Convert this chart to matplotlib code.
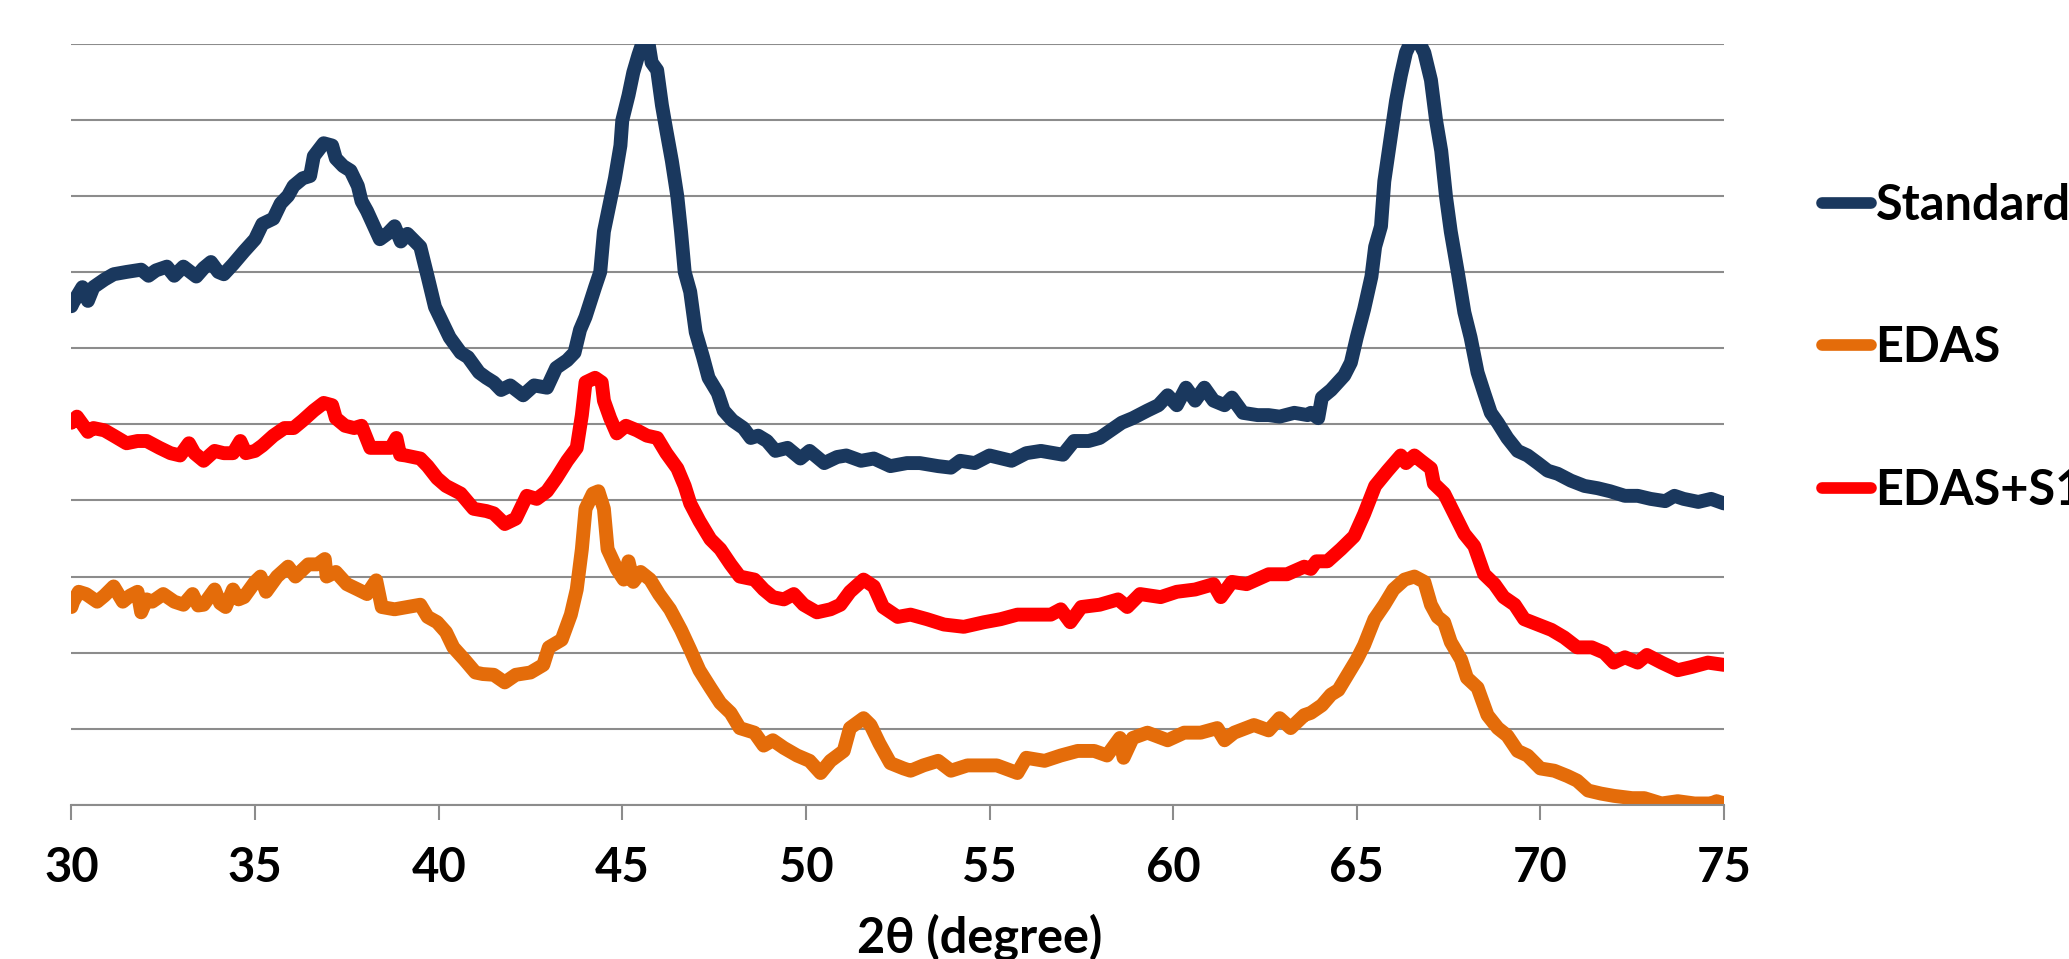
import numpy as np
import matplotlib

matplotlib.use("Agg")
import matplotlib.pyplot as plt

# ---- data (2theta in degree, intensity in grid units) ----
std_x = [30.0, 30.05, 30.3, 30.45, 30.6, 30.9, 31.15, 31.5, 31.9, 32.1, 32.3, 32.6, 32.8,
         33.05, 33.4, 33.6, 33.8, 34.0, 34.15, 34.4, 34.7, 35.0, 35.2, 35.5, 35.7, 35.9,
         36.05, 36.3, 36.5, 36.6, 36.87, 37.1, 37.2, 37.4, 37.6, 37.8, 37.9, 38.05, 38.4,
         38.6, 38.8, 38.97, 39.15, 39.5, 39.7, 39.9, 40.1, 40.3, 40.6, 40.8, 41.1, 41.3,
         41.5, 41.7, 41.95, 42.3, 42.6, 42.95, 43.2, 43.5, 43.7, 43.85, 44.0, 44.26, 44.4,
         44.5, 44.7, 44.8, 44.95, 45.0, 45.17, 45.3, 45.44, 45.58, 45.7, 45.8, 45.95, 46.08,
         46.2, 46.35, 46.5, 46.6, 46.7, 46.85, 47.0, 47.2, 47.35, 47.6, 47.76, 48.0, 48.3,
         48.5, 48.7, 48.94, 49.17, 49.5, 49.85, 50.1, 50.5, 50.85, 51.1, 51.5, 51.85, 52.3,
         52.75, 53.1, 53.6, 53.95, 54.2, 54.6, 55.0, 55.6, 56.0, 56.4, 56.75, 57.0, 57.3,
         57.7, 58.0, 58.3, 58.6, 58.9, 59.3, 59.6, 59.85, 60.1, 60.35, 60.6, 60.85, 61.1,
         61.4, 61.6, 61.9, 62.3, 62.6, 62.9, 63.3, 63.66, 63.75, 63.95, 64.05, 64.3, 64.66,
         64.84, 65.0, 65.2, 65.4, 65.5, 65.66, 65.75, 65.93, 66.07, 66.2, 66.34, 66.5, 66.66,
         66.84, 67.02, 67.16, 67.3, 67.43, 67.56, 67.75, 67.93, 68.1, 68.29, 68.47, 68.65,
         68.84, 69.1, 69.38, 69.65, 69.93, 70.2, 70.47, 70.83, 71.2, 71.56, 71.9, 72.3,
         72.65, 73.0, 73.4, 73.65, 73.9, 74.3, 74.65, 75.0]
std_y = [6.55, 6.60, 6.80, 6.62, 6.80, 6.90, 6.97, 7.00, 7.03, 6.95, 7.02, 7.07, 6.95,
         7.07, 6.94, 7.05, 7.13, 7.00, 6.97, 7.10, 7.27, 7.43, 7.63, 7.70, 7.90, 8.00,
         8.13, 8.23, 8.26, 8.52, 8.69, 8.66, 8.49, 8.39, 8.33, 8.13, 7.93, 7.80, 7.43,
         7.50, 7.60, 7.40, 7.50, 7.33, 6.94, 6.54, 6.34, 6.14, 5.94, 5.88, 5.68, 5.61,
         5.55, 5.45, 5.51, 5.38, 5.51, 5.48, 5.74, 5.84, 5.94, 6.24, 6.41, 6.80, 7.00,
         7.53, 8.00, 8.23, 8.66, 8.99, 9.32, 9.62, 9.85, 10.05, 10.05, 9.75, 9.65, 9.19,
         8.86, 8.46, 7.99, 7.53, 7.00, 6.74, 6.21, 5.88, 5.61, 5.41, 5.18, 5.05, 4.95,
         4.82, 4.85, 4.78, 4.65, 4.69, 4.55, 4.65, 4.49, 4.57, 4.59, 4.52, 4.55, 4.45,
         4.49, 4.49, 4.45, 4.43, 4.52, 4.49, 4.59, 4.52, 4.62, 4.65, 4.62, 4.60, 4.78,
         4.78, 4.82, 4.92, 5.02, 5.08, 5.18, 5.25, 5.38, 5.25, 5.48, 5.31, 5.48, 5.31,
         5.25, 5.35, 5.15, 5.12, 5.12, 5.10, 5.15, 5.12, 5.15, 5.08, 5.35, 5.45, 5.64,
         5.81, 6.14, 6.51, 6.94, 7.33, 7.60, 8.19, 8.79, 9.25, 9.58, 9.88, 10.05, 10.05,
         9.88, 9.52, 8.99, 8.59, 7.99, 7.53, 7.00, 6.47, 6.14, 5.68, 5.41, 5.15,
         5.02, 4.82, 4.65, 4.59, 4.49, 4.39, 4.35, 4.26, 4.19, 4.16, 4.12, 4.06,
         4.06, 4.02, 3.99, 4.06, 4.02, 3.98, 4.02, 3.96]

edas_x = [30.0, 30.05, 30.2, 30.4, 30.7, 30.9, 31.15, 31.4, 31.6, 31.8, 31.9, 32.05, 32.2,
          32.5, 32.8, 33.05, 33.3, 33.45, 33.6, 33.9, 34.05, 34.2, 34.4, 34.55, 34.7, 35.0,
          35.15, 35.3, 35.6, 35.9, 36.1, 36.45, 36.7, 36.9, 36.95, 37.2, 37.5, 37.8, 38.05,
          38.3, 38.45, 38.8, 39.15, 39.5, 39.7, 39.96, 40.2, 40.4, 40.7, 41.0, 41.2, 41.5,
          41.8, 42.1, 42.5, 42.85, 43.0, 43.35, 43.6, 43.76, 43.9, 44.0, 44.2, 44.35, 44.5,
          44.6, 44.85, 45.04, 45.17, 45.3, 45.5, 45.76, 46.0, 46.3, 46.6, 46.85, 47.1, 47.4,
          47.67, 47.95, 48.2, 48.6, 48.85, 49.1, 49.4, 49.76, 50.1, 50.4, 50.67, 51.03,
          51.2, 51.57, 51.76, 52.0, 52.3, 52.66, 52.85, 53.2, 53.6, 53.95, 54.4, 54.85,
          55.2, 55.76, 56.0, 56.5, 56.94, 57.4, 57.85, 58.2, 58.55, 58.65, 58.9, 59.3,
          59.85, 60.3, 60.75, 61.2, 61.4, 61.66, 62.2, 62.6, 62.9, 63.2, 63.57, 63.75,
          64.05, 64.3, 64.5, 64.75, 65.0, 65.2, 65.48, 65.75, 66.0, 66.3, 66.57, 66.84,
          67.02, 67.2, 67.38, 67.56, 67.84, 68.0, 68.29, 68.56, 68.84, 69.1, 69.38, 69.65,
          70.0, 70.38, 70.74, 71.0, 71.3, 71.65, 72.0, 72.5, 72.83, 73.3, 73.74, 74.2,
          74.65, 74.8, 75.0]
edas_y = [2.60, 2.67, 2.80, 2.77, 2.67, 2.75, 2.87, 2.67, 2.75, 2.80, 2.53, 2.70, 2.67,
          2.77, 2.67, 2.63, 2.77, 2.62, 2.63, 2.83, 2.65, 2.60, 2.83, 2.70, 2.73, 2.93,
          3.00, 2.80, 3.00, 3.13, 3.00, 3.16, 3.16, 3.23, 3.00, 3.06, 2.90, 2.83, 2.77,
          2.95, 2.60, 2.57, 2.60, 2.63, 2.47, 2.40, 2.27, 2.07, 1.91, 1.74, 1.72, 1.71,
          1.61, 1.71, 1.74, 1.84, 2.07, 2.17, 2.50, 2.83, 3.36, 3.89, 4.09, 4.12, 3.89,
          3.36, 3.10, 2.96, 3.20, 2.93, 3.06, 2.96, 2.77, 2.57, 2.30, 2.04, 1.77, 1.54,
          1.34, 1.21, 1.01, 0.95, 0.78, 0.85, 0.75, 0.65, 0.58, 0.42, 0.58, 0.71,
          1.01, 1.14, 1.05, 0.81, 0.55, 0.48, 0.45, 0.52, 0.58, 0.45, 0.52, 0.52,
          0.52, 0.42, 0.62, 0.58, 0.65, 0.71, 0.71, 0.65, 0.88, 0.62, 0.88, 0.95,
          0.85, 0.95, 0.95, 1.01, 0.85, 0.95, 1.05, 0.98, 1.14, 1.01, 1.18, 1.21,
          1.31, 1.45, 1.51, 1.71, 1.91, 2.10, 2.44, 2.63, 2.83, 2.96, 3.00, 2.93,
          2.63, 2.47, 2.40, 2.14, 1.91, 1.67, 1.54, 1.18, 1.01, 0.91, 0.71, 0.65,
          0.48, 0.45, 0.38, 0.32, 0.19, 0.15, 0.12, 0.09, 0.09, 0.02, 0.05, 0.02,
          0.02, 0.05, 0.02]

s1_x = [30.0, 30.15, 30.3, 30.45, 30.6, 30.9, 31.15, 31.5, 31.8, 32.05, 32.4, 32.7, 32.96,
        33.2, 33.35, 33.6, 33.9, 34.15, 34.4, 34.6, 34.75, 35.0, 35.2, 35.5, 35.8, 36.05,
        36.3, 36.6, 36.87, 37.1, 37.2, 37.45, 37.7, 37.9, 38.14, 38.4, 38.7, 38.85, 38.95,
        39.1, 39.5, 39.7, 39.96, 40.2, 40.6, 40.95, 41.3, 41.5, 41.8, 42.1, 42.4, 42.67,
        42.95, 43.2, 43.5, 43.76, 43.9, 44.0, 44.26, 44.44, 44.5, 44.67, 44.85, 45.1, 45.4,
        45.67, 45.95, 46.2, 46.5, 46.7, 46.85, 47.1, 47.4, 47.67, 47.95, 48.2, 48.6, 48.85,
        49.1, 49.4, 49.67, 49.94, 50.3, 50.67, 50.94, 51.2, 51.57, 51.85, 52.1, 52.5, 52.85,
        53.3, 53.76, 54.3, 54.85, 55.3, 55.76, 56.2, 56.67, 56.94, 57.2, 57.5, 58.0, 58.5,
        58.75, 59.1, 59.66, 60.1, 60.6, 61.1, 61.3, 61.6, 62.0, 62.6, 63.1, 63.57, 63.75,
        63.9, 64.2, 64.57, 64.93, 65.2, 65.5, 65.84, 66.2, 66.34, 66.57, 66.75, 67.02, 67.1,
        67.38, 67.66, 67.93, 68.2, 68.47, 68.75, 69.0, 69.3, 69.56, 69.93, 70.3, 70.65,
        71.0, 71.4, 71.74, 72.0, 72.3, 72.65, 72.9, 73.3, 73.74, 74.1, 74.56, 75.0]
s1_y = [5.02, 5.10, 5.00, 4.90, 4.95, 4.92, 4.85, 4.75, 4.78, 4.78, 4.69, 4.62, 4.59,
        4.75, 4.62, 4.52, 4.65, 4.62, 4.62, 4.78, 4.62, 4.65, 4.72, 4.85, 4.95, 4.95,
        5.05, 5.18, 5.28, 5.25, 5.08, 4.98, 4.95, 4.98, 4.69, 4.69, 4.69, 4.82, 4.60,
        4.59, 4.55, 4.45, 4.29, 4.19, 4.09, 3.89, 3.86, 3.83, 3.69, 3.76, 4.06, 4.02,
        4.12, 4.29, 4.52, 4.69, 5.12, 5.55, 5.61, 5.55, 5.31, 5.08, 4.88, 4.98, 4.92,
        4.85, 4.82, 4.62, 4.42, 4.19, 3.96, 3.73, 3.49, 3.36, 3.16, 3.00, 2.96, 2.83,
        2.73, 2.70, 2.77, 2.63, 2.53, 2.57, 2.63, 2.80, 2.96, 2.87, 2.60, 2.47, 2.50,
        2.44, 2.37, 2.34, 2.40, 2.44, 2.50, 2.50, 2.50, 2.57, 2.40, 2.60, 2.63, 2.70,
        2.60, 2.77, 2.73, 2.80, 2.83, 2.90, 2.73, 2.93, 2.90, 3.03, 3.03, 3.13, 3.10,
        3.20, 3.20, 3.36, 3.53, 3.82, 4.19, 4.39, 4.59, 4.49, 4.59, 4.52, 4.42, 4.22,
        4.09, 3.82, 3.56, 3.40, 3.03, 2.90, 2.73, 2.63, 2.44, 2.37, 2.30, 2.20,
        2.07, 2.07, 2.00, 1.87, 1.94, 1.87, 1.97, 1.87, 1.77, 1.81, 1.87, 1.84]

SERIES = [("Standard", std_x, std_y, "#1a385e"),
          ("EDAS", edas_x, edas_y, "#e46c0a"),
          ("EDAS+S1", s1_x, s1_y, "#ff0000")]
XTICKS = [30, 35, 40, 45, 50, 55, 60, 65, 70, 75]
GRID = "#8c8c8c"

plt.rcParams["font.family"] = ["Lato", "DejaVu Sans"]
plt.rcParams["font.weight"] = "bold"

W, H = 2069, 959
fig = plt.figure(figsize=(W / 100, H / 100), dpi=100)
ax = fig.add_axes([71.4 / W, 1 - 805 / H, (1724 - 71.4) / W, (805 - 43.5) / H])

handles = []
for name, xs, ys, col in SERIES:
    ln, = ax.plot(np.asarray(xs), np.asarray(ys), color=col, lw=10, label=name,
                  solid_capstyle="round", solid_joinstyle="round")
    handles.append(ln)

ax.set_xlim(30, 75)
ax.set_ylim(0, 10)
ax.set_xticks(XTICKS)
ax.set_xticklabels([str(t) for t in XTICKS])
ax.set_yticks(np.arange(0, 11))
ax.set_axisbelow(True)
ax.yaxis.grid(True, color=GRID, lw=1.5)
for s in ("left", "right", "top"):
    ax.spines[s].set_visible(False)
ax.spines["bottom"].set_color(GRID)
ax.spines["bottom"].set_linewidth(1.5)
ax.tick_params(axis="y", left=False, labelleft=False)
ax.tick_params(axis="x", direction="out", length=10.8, width=1.5, color=GRID,
               pad=19, labelsize=34)

ax.set_xlabel("2θ (degree)", fontsize=35, fontweight="bold", va="top")
ax.xaxis.set_label_coords(0.5498, (805 - 913) / (805 - 43.5))

leg = fig.legend(handles=handles, labels=[s[0] for s in SERIES], loc="center left",
                 bbox_to_anchor=(1822 / W, 1 - 348 / H), frameon=False, fontsize=35,
                 handlelength=1.0, handletextpad=0.1, labelspacing=2.0,
                 borderpad=0, borderaxespad=0)
for hl in leg.get_lines():
    hl.set_linewidth(8.4)

fig.savefig("out.png", dpi=100)
print("saved out.png")
